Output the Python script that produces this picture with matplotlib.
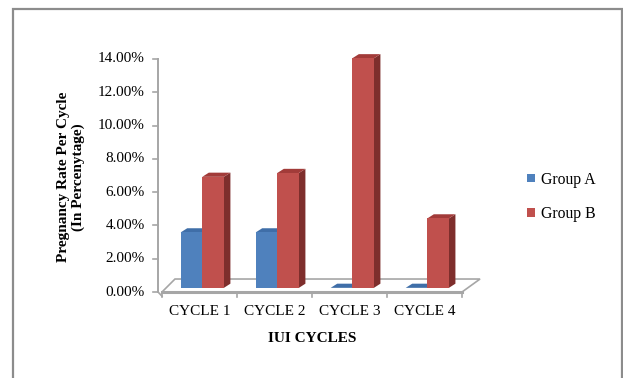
import numpy as np
import matplotlib.pyplot as plt
from matplotlib.patches import Polygon, Rectangle, Patch

plt.rcParams['font.family'] = ['Liberation Serif', 'DejaVu Serif']

categories = ['CYCLE 1', 'CYCLE 2', 'CYCLE 3', 'CYCLE 4']
group_a = [3.33, 3.33, 0.0, 0.0]
group_b = [6.67, 6.90, 13.79, 4.17]
series_names = ['Group A', 'Group B']
yticks = [0, 2, 4, 6, 8, 10, 12, 14]

front_cols = ['#4F81BD', '#C0504D']
top_cols = ['#3F6EA8', '#A23B39']
side_cols = ['#375E8E', '#7E2E2C']

# oblique "3d" offsets (category units, percent units)
dx, dy = 0.087, 0.25
bw = 0.288
offs = [0.249, 0.537]

fig = plt.figure(figsize=(6.23, 3.78), dpi=100)
ax = fig.add_axes([150 / 623, 73 / 378, 340 / 623, 265 / 378])
ax.set_xlim(-0.16, 4.373)
ax.set_ylim(-0.781, 15.14)
ax.axis('off')

# outer chart frame
fig.patches.append(Rectangle((13 / 623, -0.05), 608.5 / 623, 1 - 9 / 378 + 0.05,
                             transform=fig.transFigure, fill=False,
                             edgecolor='#8C8C8C', lw=1.6))

# floor
n = len(categories)
floor = Polygon([(0, 0), (n, 0), (n + 0.24, 0.78), (0.173, 0.78)], closed=True,
                facecolor='white', edgecolor='#A6A6A6', lw=1.2, zorder=1)
ax.add_patch(floor)
ax.plot([0, n], [0, 0], color='#A6A6A6', lw=2.2, zorder=1.5)
for i in range(n + 1):
    ax.plot([i, i], [0, -0.3], color='#A6A6A6', lw=1.2, zorder=1.5)

# value axis
ax.plot([-0.053, -0.053], [0, 14], color='#A6A6A6', lw=1.4, zorder=1.5)
ax.plot([-0.053, 0.0], [0, -0.25], color='#A6A6A6', lw=1.2, zorder=1.5)
for t in yticks:
    ax.plot([-0.12, -0.053], [t, t], color='#A6A6A6', lw=1.2)
    ax.text(-0.227, t, '%.2f%%' % t, ha='right', va='center', fontsize=11)

x = np.arange(n)
base = dy
for i in range(n):
    for s, vals in enumerate([group_a, group_b]):
        bars = ax.bar(x[i] + offs[s], vals[i], width=bw, bottom=base, align='edge',
                      color=front_cols[s], lw=0, zorder=3 + s)
        r = bars[0]
        x0, x1 = r.get_x(), r.get_x() + r.get_width()
        top = r.get_y() + r.get_height()
        ax.add_patch(Polygon([(x1, base), (x1 + dx, base + dy), (x1 + dx, top + dy), (x1, top)],
                             closed=True, facecolor=side_cols[s], lw=0, zorder=2.9 + s))
        ax.add_patch(Polygon([(x0, top), (x1, top), (x1 + dx, top + dy), (x0 + dx, top + dy)],
                             closed=True, facecolor=top_cols[s], lw=0, zorder=2.9 + s))

for i, c in enumerate(categories):
    ax.text(i + 0.5, -1.17, c, ha='center', va='center', fontsize=11)

ax.text(2.0, -2.77, 'IUI CYCLES', ha='center', va='center', fontsize=11, fontweight='bold')
fig.text(71 / 623, 1 - 177 / 378, 'Pregnancy Rate Per Cycle\n(In Percenytage)',
         rotation=90, ha='center', va='center', fontsize=11, fontweight='bold',
         linespacing=1.15)

handles = [Patch(facecolor=front_cols[k], edgecolor='none') for k in range(2)]
fig.legend(handles, series_names, loc='center left',
           bbox_to_anchor=(513 / 623, 1 - 197 / 378), frameon=False, fontsize=11.3,
           handlelength=0.5, handleheight=0.5, handletextpad=0.4, labelspacing=1.2)

fig.savefig('out.png', dpi=100)
